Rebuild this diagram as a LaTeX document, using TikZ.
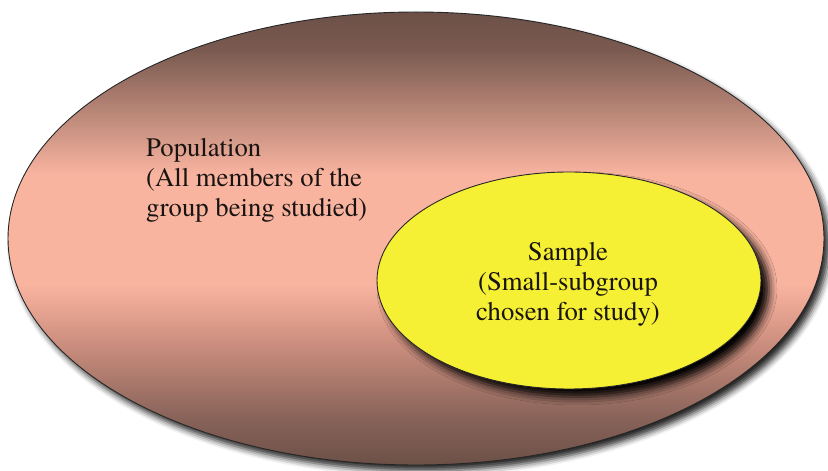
\documentclass[tikz,border=0pt]{standalone}
\usepackage{fontspec}
\setmainfont{TeX Gyre Termes}
\usetikzlibrary{shadows.blur}
\definecolor{popdark}{RGB}{108,80,71}
\definecolor{popmid}{RGB}{122,90,80}
\definecolor{popmidb}{RGB}{135,98,88}
\definecolor{poppink}{RGB}{249,180,160}
\definecolor{poppinkb}{RGB}{215,150,133}
\definecolor{sampyellow}{RGB}{246,240,52}
\definecolor{textdark}{RGB}{25,20,18}
\pgfdeclareverticalshading{popshade}{100bp}{%
  color(0bp)=(popdark); color(25bp)=(popdark); color(30bp)=(popmidb);
  color(39.9bp)=(poppinkb); color(44.9bp)=(poppink); color(57bp)=(poppink);
  color(70.8bp)=(popmid); color(75bp)=(popdark); color(100bp)=(popdark)}
\tikzset{
  popellipse/.style={draw=black!85, line width=0.9pt, shading=popshade,
    blur shadow={shadow xshift=5pt, shadow yshift=-6pt, shadow blur radius=6pt, shadow opacity=85}},
  sampellipse/.style={draw=black!85, line width=0.9pt, fill=sampyellow,
    blur shadow={shadow xshift=8pt, shadow yshift=-8pt, shadow blur radius=8pt, shadow opacity=100}},
  lbl/.style={font=\fontsize{26.7}{30}\selectfont, text=textdark, inner sep=0pt},
}
\begin{document}
\begin{tikzpicture}[x=1pt,y=1pt]
\useasboundingbox (0,0) rectangle (828,471);
\path[popellipse] (416,232.5) ellipse [x radius=408, y radius=226.5];
\path[sampellipse] (569,190.5) ellipse [x radius=192, y radius=108.5];
\node[lbl, align=left, anchor=base west] (poptext) at (146,254) {Population\\(All members of the\\group being studied)};
\node[lbl, align=center, anchor=base] (samptext) at (568,150) {Sample\\(Small-subgroup\\chosen for study)};
\end{tikzpicture}
\end{document}
